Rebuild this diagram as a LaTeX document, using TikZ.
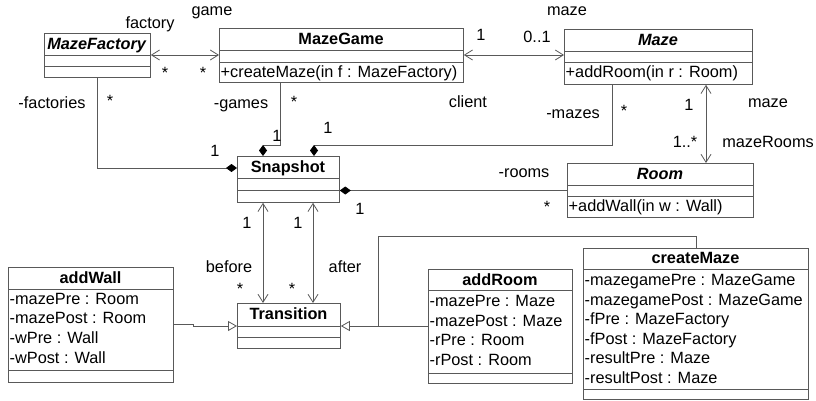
\documentclass[tikz,border=0pt]{standalone}
\usepackage{fontspec}
\setmainfont{Liberation Sans}
\usetikzlibrary{arrows.meta}
\begin{document}
\begin{tikzpicture}[x=1pt,y=-1pt,
  font=\fontsize{16.3}{19.6}\selectfont,
  ln/.style={draw=black!65, line width=0.8pt},
  cls/.style={draw=black!65, line width=0.8pt, rectangle, inner sep=0pt, anchor=north west},
  txt/.style={inner sep=0pt, anchor=base west},
  lbl/.style={inner sep=0pt, anchor=base},
  nav/.style={{Straight Barb[length=8pt,width=10pt]}-{Straight Barb[length=8pt,width=10pt]}},
  dia/.style={-{Diamond[length=11pt,width=8pt,fill=black,color=black]}},
  gen/.style={-{Triangle[open,length=9pt,width=10pt,fill=white]}}
]
\useasboundingbox (0,0) rectangle (816,401);

% ---- classes ----
\node[cls, minimum width=106pt, minimum height=44pt] (mf) at (44,33) {};
\draw[ln] (mf.west |- 0,55) -- (mf.east |- 0,55);
\draw[ln] (mf.west |- 0,66) -- (mf.east |- 0,66);
\node[lbl] (mfT) at (97,50) {\textbf{\textit{MazeFactory}}};

\node[cls, minimum width=244pt, minimum height=54pt] (mg) at (219,28) {};
\draw[ln] (mg.west |- 0,50) -- (mg.east |- 0,50);
\draw[ln] (mg.west |- 0,62) -- (mg.east |- 0,62);
\node[lbl] (mgT) at (341,45) {\textbf{MazeGame}};
\node[txt] (mgM) at (220.5,77.5) {+createMaze(in f : MazeFactory)};

\node[cls, minimum width=188pt, minimum height=55pt] (mz) at (564,29) {};
\draw[ln] (mz.west |- 0,51) -- (mz.east |- 0,51);
\draw[ln] (mz.west |- 0,62) -- (mz.east |- 0,62);
\node[lbl] (mzT) at (658,45.5) {\textbf{\textit{Maze}}};
\node[txt] (mzM) at (565.5,78) {+addRoom(in r : Room)};

\node[cls, minimum width=186pt, minimum height=54pt] (rm) at (567,163) {};
\draw[ln] (rm.west |- 0,185) -- (rm.east |- 0,185);
\draw[ln] (rm.west |- 0,196) -- (rm.east |- 0,196);
\node[lbl] (rmT) at (660,179) {\textbf{\textit{Room}}};
\node[txt] (rmM) at (568.5,211.5) {+addWall(in w : Wall)};

\node[cls, minimum width=102pt, minimum height=46pt] (ss) at (237,156) {};
\draw[ln] (ss.west |- 0,178) -- (ss.east |- 0,178);
\draw[ln] (ss.west |- 0,190) -- (ss.east |- 0,190);
\node[lbl] (ssT) at (288,172.5) {\textbf{Snapshot}};

\node[cls, minimum width=103pt, minimum height=45pt] (tr) at (237,303) {};
\draw[ln] (tr.west |- 0,326) -- (tr.east |- 0,326);
\draw[ln] (tr.west |- 0,337) -- (tr.east |- 0,337);
\node[lbl] (trT) at (288.5,319.5) {\textbf{Transition}};

\node[cls, minimum width=165pt, minimum height=115pt] (aw) at (8,267) {};
\draw[ln] (aw.west |- 0,289) -- (aw.east |- 0,289);
\draw[ln] (aw.west |- 0,370) -- (aw.east |- 0,370);
\node[lbl] (awT) at (90.5,283.5) {\textbf{addWall}};
\node[txt] (aw1) at (9.5,304) {-mazePre : Room};
\node[txt] (aw2) at (9.5,323.7) {-mazePost : Room};
\node[txt] (aw3) at (9.5,343.4) {-wPre : Wall};
\node[txt] (aw4) at (9.5,363.1) {-wPost : Wall};

\node[cls, minimum width=144pt, minimum height=114pt] (ar) at (428,269) {};
\draw[ln] (ar.west |- 0,290) -- (ar.east |- 0,290);
\draw[ln] (ar.west |- 0,373) -- (ar.east |- 0,373);
\node[lbl] (arT) at (500,285) {\textbf{addRoom}};
\node[txt] (ar1) at (429.5,306.5) {-mazePre : Maze};
\node[txt] (ar2) at (429.5,326.2) {-mazePost : Maze};
\node[txt] (ar3) at (429.5,345.9) {-rPre : Room};
\node[txt] (ar4) at (429.5,365.6) {-rPost : Room};

\node[cls, minimum width=225pt, minimum height=151pt] (cm) at (583,248) {};
\draw[ln] (cm.west |- 0,269) -- (cm.east |- 0,269);
\draw[ln] (cm.west |- 0,389) -- (cm.east |- 0,389);
\node[lbl] (cmT) at (695.5,263.5) {\textbf{createMaze}};
\node[txt] (cm1) at (584.5,285.5) {-mazegamePre : MazeGame};
\node[txt] (cm2) at (584.5,305.1) {-mazegamePost : MazeGame};
\node[txt] (cm3) at (584.5,324.7) {-fPre : MazeFactory};
\node[txt] (cm4) at (584.5,344.3) {-fPost : MazeFactory};
\node[txt] (cm5) at (584.5,363.9) {-resultPre : Maze};
\node[txt] (cm6) at (584.5,383.5) {-resultPost : Maze};

% ---- connectors ----
\draw[ln, nav] (mf.east |- 0,55) -- (mg.west |- 0,55);
\draw[ln, nav] (mg.east |- 0,55) -- (mz.west |- 0,55);
\draw[ln, dia] (mf.south -| 97,0) |- (ss.west |- 0,168);
\draw[ln, dia] (mg.south -| 280,0) |- (263,145) -- (ss.north -| 263,0);
\draw[ln, dia] (mz.south -| 612,0) |- (314,145) -- (ss.north -| 314,0);
\draw[ln, nav] (mz.south -| 706,0) -- (rm.north -| 706,0);
\draw[ln, dia] (rm.west |- 0,190.5) -- (ss.east |- 0,190.5);
\draw[ln, nav] (ss.south -| 263,0) -- (tr.north -| 263,0);
\draw[ln, nav] (ss.south -| 313,0) -- (tr.north -| 313,0);
\draw[ln, gen] (aw.east |- 0,324) -- (193,324) -- (193,326) -- (tr.west |- 0,326);
\draw[ln, gen] (ar.west |- 0,326) -- (tr.east |- 0,326);
\draw[ln] (cm.north -| 696,0) |- (378,236) -- (378,326);

% ---- labels ----
\node[lbl] (l1) at (150,29) {factory};
\node[lbl] (l2) at (212,16) {game};
\node[lbl] (l3) at (165,79) {*};
\node[lbl] (l4) at (203,79) {*};
\node[lbl] (l5) at (52,109) {-factories};
\node[lbl] (l6) at (110,107) {*};
\node[lbl] (l7) at (215,156) {1};
\node[lbl] (l8) at (241,109) {-games};
\node[lbl] (l9) at (294,108) {*};
\node[lbl] (l10) at (277,141) {1};
\node[lbl] (l11) at (328,133) {1};
\node[lbl] (l12) at (481,41) {1};
\node[lbl] (l13) at (468,108) {client};
\node[lbl] (l14) at (537,43) {0..1};
\node[lbl] (l15) at (567,16) {maze};
\node[lbl] (l16) at (573,119) {-mazes};
\node[lbl] (l17) at (624,117) {*};
\node[lbl] (l18) at (689,111) {1};
\node[lbl] (l19) at (768,108) {maze};
\node[lbl] (l20) at (685,147) {1..*};
\node[lbl] (l21) at (768,147) {mazeRooms};
\node[lbl] (l22) at (524,177) {-rooms};
\node[lbl] (l23) at (547,212) {*};
\node[lbl] (l24) at (360,214) {1};
\node[lbl] (l25) at (247,228) {1};
\node[lbl] (l26) at (298,228) {1};
\node[lbl] (l27) at (229,272) {before};
\node[lbl] (l28) at (345,272) {after};
\node[lbl] (l29) at (240,294) {*};
\node[lbl] (l30) at (292,294) {*};
\end{tikzpicture}
\end{document}
